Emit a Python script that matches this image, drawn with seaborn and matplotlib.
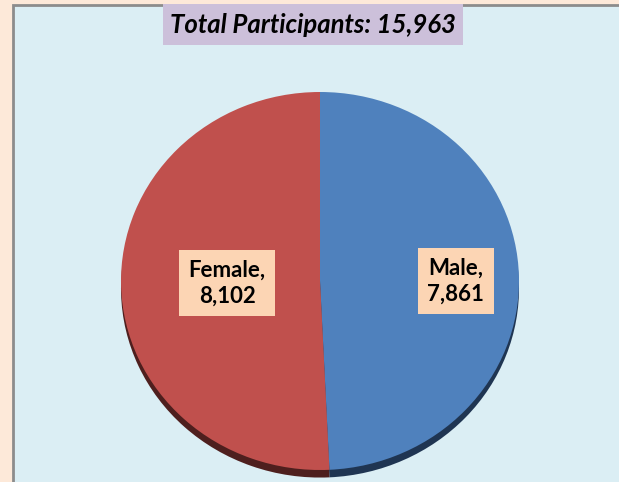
import matplotlib
matplotlib.use('Agg')
import matplotlib.pyplot as plt
from matplotlib.patches import Rectangle
import seaborn as sns

# data
labels = ['Male', 'Female']
counts = [7861, 8102]
colors = ['#4F81BD', '#C0504D']
shadow_colors = ['#1F3552', '#4E1F1E']
title = 'Total Participants: 15,963'

sns.set_theme(style='white')
plt.rcParams['font.family'] = ['Lato', 'DejaVu Sans']

W, H = 619, 482
fig = plt.figure(figsize=(W / 100, H / 100), dpi=100, facecolor='#FDE9D9')

# chart area panel
fig.patches.append(Rectangle((13 / W, -0.01), 1.0, 1 - 5 / H + 0.01, transform=fig.transFigure,
                             facecolor='#DBEEF4', edgecolor='#8C8C8C', linewidth=2, zorder=-2))

# pie axes: ellipse spans x 121..519, y 92..470 px, plus room for the shadow
ax = fig.add_axes([121 / W, -4 / H, 398 / W, 394 / H])
ax.set_facecolor('none')

# bottom shadow of the 3D pie
ax.pie(counts, colors=shadow_colors, startangle=90, counterclock=False,
       center=(0, -0.04), wedgeprops={'linewidth': 0})
ax.pie(counts, colors=colors, startangle=90, counterclock=False,
       wedgeprops={'linewidth': 0})
ax.set_aspect('auto')
ax.set_xlim(-1, 1)
ax.set_ylim(-1 - 16 / 189, 1)
ax.axis('off')

# data labels
label_pos = {'Female': (-0.467, -0.01), 'Male': (0.683, 0.0)}
for name, val in zip(labels, counts):
    x, y = label_pos[name]
    ax.text(x, y, f'{name},\n{val:,}', ha='center', va='center', fontsize=16,
            fontweight='bold', color='black', linespacing=1.3,
            bbox=dict(boxstyle='square,pad=0.42', facecolor='#FCD5B4', edgecolor='none'))

# title box
fig.patches.append(Rectangle((163 / W, 1 - 45 / H), 300 / W, 41 / H, transform=fig.transFigure,
                             facecolor='#CCC0DA', edgecolor='none', zorder=1))
fig.text(313 / W, 1 - 25 / H, title, ha='center', va='center', fontsize=18.5,
         fontweight='bold', fontstyle='italic', color='black', zorder=2)

fig.savefig('out.png', dpi=100, facecolor=fig.get_facecolor())
